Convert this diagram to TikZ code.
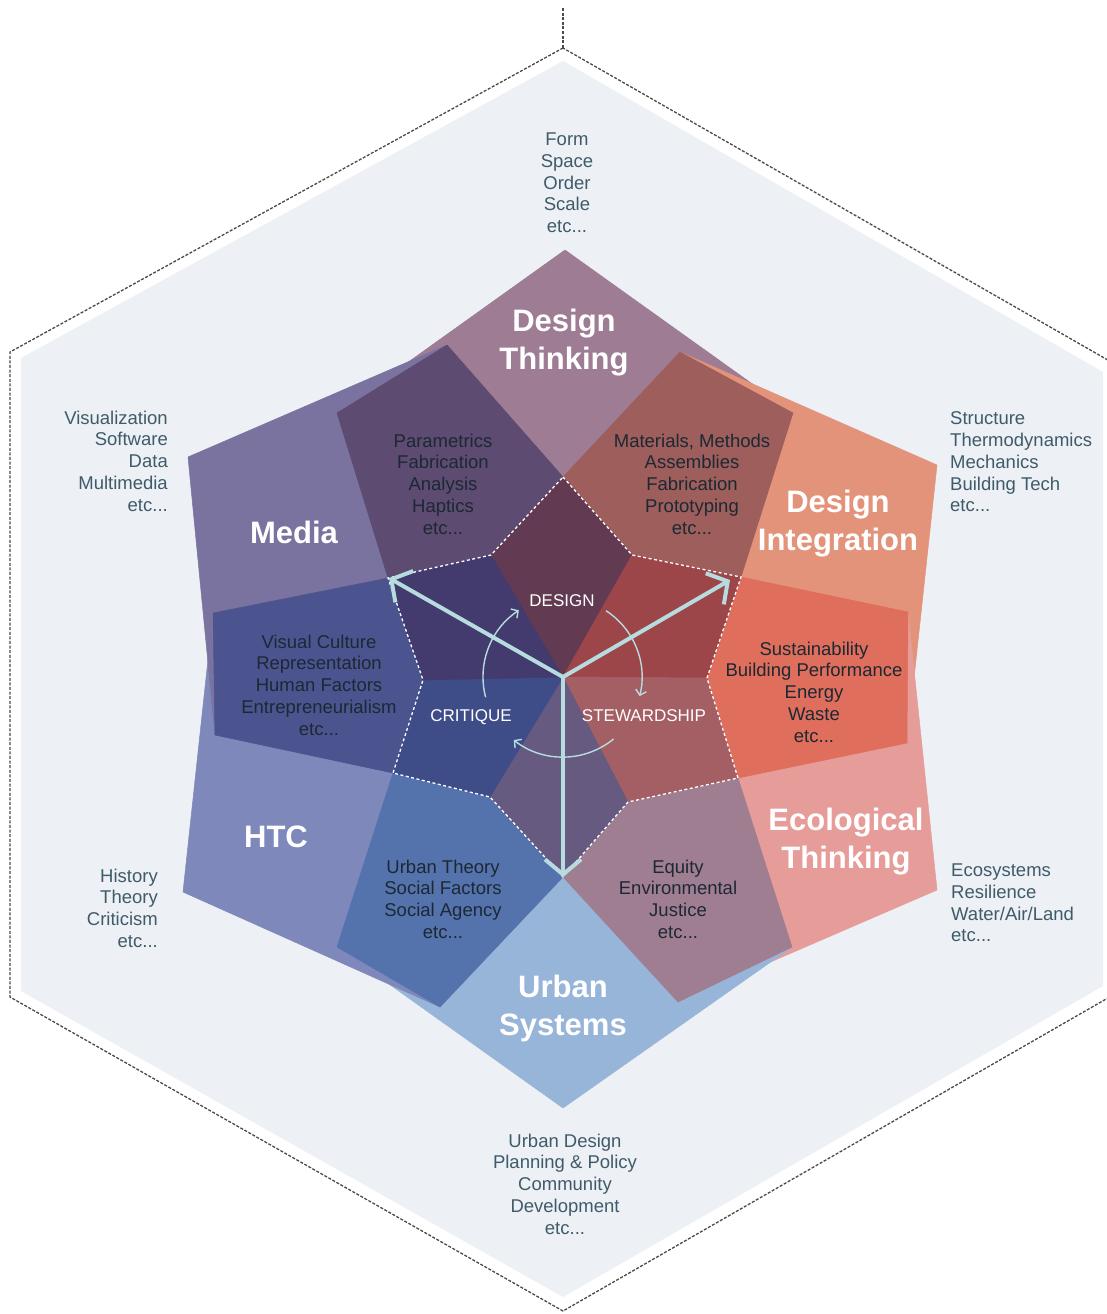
\documentclass[tikz,border=0pt]{standalone}
\usepackage{fontspec}
\setmainfont{Liberation Sans}
\usetikzlibrary{arrows.meta}

% palette
\definecolor{groundfill}{HTML}{EDF0F5}
\definecolor{framec}{HTML}{4A4A4A}
\definecolor{dtc}{HTML}{9E7C94}
\definecolor{dic}{HTML}{E4937B}
\definecolor{etc}{HTML}{E69C99}
\definecolor{usc}{HTML}{97B4D9}
\definecolor{htcc}{HTML}{7E88BA}
\definecolor{mediac}{HTML}{7A739F}
\definecolor{paramc}{HTML}{5D4B72}
\definecolor{materc}{HTML}{9D5E5C}
\definecolor{sustc}{HTML}{DF6E5C}
\definecolor{equityc}{HTML}{A07E92}
\definecolor{utheoryc}{HTML}{5473AD}
\definecolor{vculturec}{HTML}{4C5490}
\definecolor{coretop}{HTML}{623B53}
\definecolor{coreur}{HTML}{9C464A}
\definecolor{corelr}{HTML}{A35F63}
\definecolor{corebot}{HTML}{665A80}
\definecolor{corell}{HTML}{3E4C88}
\definecolor{coreul}{HTML}{433A6D}
\definecolor{axisc}{HTML}{B7DCE0}
\definecolor{outerink}{HTML}{3F5B69}
\definecolor{innerink}{HTML}{1C2833}

\begin{document}
\begin{tikzpicture}[x=1pt,y=-1pt,
  patch/.style={fill=#1, draw=#1, line width=0.5pt, line join=round},
  smalltext/.style={font=\fontsize{18.5}{21.7}\selectfont, inner sep=0pt},
  outertext/.style={smalltext, text=outerink},
  innertext/.style={smalltext, text=innerink, align=center},
  title/.style={font=\fontsize{31}{38}\selectfont\bfseries, text=white, align=center, inner sep=0pt},
  corelabel/.style={font=\fontsize{17}{20}\selectfont, text=white, inner sep=0pt},
  axis/.style={draw=axisc, line width=4pt, -{Straight Barb[length=15pt,width=36pt]}},
  turn/.style={draw=axisc, line width=1.4pt, -{Straight Barb[length=5pt,width=11pt]}},
  seam/.style={draw=white, line width=1.3pt, dash pattern=on 3pt off 2.5pt},
  frame/.style={draw=framec, line width=1.3pt, dash pattern=on 3pt off 1.6pt}]

\useasboundingbox (0,0) rectangle (1107,1314);
\fill[white] (0,0) rectangle (1107,1314);

% outer ground hexagon and its dashed frame
\fill[groundfill] (563,61) -- (21,358) -- (21,991) -- (563,1297) -- (1103,986) -- (1103,372) -- cycle;
\coordinate (frametop) at (563,48);
\coordinate (stem) at (563,8);
\draw[frame] (frametop) -- (10,352) -- (10,997) -- (563,1311) -- (1120,991) -- (1120,367) -- cycle;
\draw[frame] (stem) -- (frametop);

\coordinate (c) at (563,677);

% six main sectors
\fill[patch=dtc]    (c) -- (337,413) -- (565,250) -- (793,413) -- cycle;
\fill[patch=dic]    (c) -- (680,352) -- (937,465) -- (907,743) -- cycle;
\fill[patch=etc]    (c) -- (908,612) -- (937,890) -- (678,1002) -- cycle;
\fill[patch=usc]    (c) -- (792,947) -- (563,1108) -- (337,947) -- cycle;
\fill[patch=htcc]   (c) -- (440,1007) -- (183,892) -- (213,613) -- cycle;
\fill[patch=mediac] (c) -- (215,735) -- (188,457) -- (447,345) -- cycle;

% overlaps between neighbouring sectors
\fill[patch=paramc]    (337,413) -- (447,345) -- (563,477) -- (491,555) -- (388,578) -- cycle;
\fill[patch=materc]    (680,352) -- (793,413) -- (741,577) -- (632,555) -- (563,477) -- cycle;
\fill[patch=sustc]     (741,577) -- (908,612) -- (907,743) -- (738,778) -- (707,678) -- cycle;
\fill[patch=equityc]   (738,778) -- (792,947) -- (678,1002) -- (563,877) -- (628,802) -- cycle;
\fill[patch=utheoryc]  (393,773) -- (490,797) -- (563,877) -- (440,1007) -- (337,947) -- cycle;
\fill[patch=vculturec] (213,613) -- (388,578) -- (423,680) -- (393,773) -- (215,735) -- cycle;

% central star
\fill[patch=coretop] (c) -- (491,555) -- (563,477) -- (632,555) -- cycle;
\fill[patch=coreur]  (c) -- (632,555) -- (741,577) -- (707,678) -- cycle;
\fill[patch=corelr]  (c) -- (707,678) -- (738,778) -- (628,802) -- cycle;
\fill[patch=corebot] (c) -- (628,802) -- (563,877) -- (490,797) -- cycle;
\fill[patch=corell]  (c) -- (490,797) -- (393,773) -- (423,680) -- cycle;
\fill[patch=coreul]  (c) -- (423,680) -- (388,578) -- (491,555) -- cycle;
\draw[seam] (563,477) -- (632,555) -- (741,577) -- (707,678) -- (738,778) -- (628,802)
  -- (563,877) -- (490,797) -- (393,773) -- (423,680) -- (388,578) -- (491,555) -- cycle;

% axes
\coordinate (ulend) at (389,578);
\coordinate (urend) at (730,580);
\coordinate (botend) at (563,877);
\draw[axis] (c) -- (ulend);
\draw[axis] (c) -- (urend);
\draw[axis] (c) -- (botend);

% cycle arrows around the centre
\path (c) ++(194.6:80pt) coordinate (t1s);
\path (c) ++(57:79pt) coordinate (t2s);
\path (c) ++(-50.7:80pt) coordinate (t3s);
\draw[turn] (t1s) arc[start angle=194.6, end angle=123.5, radius=80pt];
\draw[turn] (t2s) arc[start angle=57, end angle=-14, radius=79pt];
\draw[turn] (t3s) arc[start angle=-50.7, end angle=-128, radius=80pt];

\node[corelabel] (design) at (562,601) {DESIGN};
\node[corelabel] (critique) at (471,717) {CRITIQUE};
\node[corelabel] (stewardship) at (644,716) {STEWARDSHIP};

% sector titles
\node[title] (tdt) at (564,343) {Design\\Thinking};
\node[title] (tmedia) at (294,532) {Media};
\node[title] (tdi) at (838,524) {Design\\Integration};
\node[title] (tet) at (846,842) {Ecological\\Thinking};
\node[title] (thtc) at (276,837) {HTC};
\node[title] (tus) at (563,1008) {Urban\\Systems};

% overlap contents
\node[innertext] (lparam) at (443,484) {Parametrics\\Fabrication\\Analysis\\Haptics\\etc...};
\node[innertext] (lmater) at (692,484) {Materials, Methods\\Assemblies\\Fabrication\\Prototyping\\etc...};
\node[innertext] (lvis) at (319,685) {Visual Culture\\Representation\\Human Factors\\Entrepreneurialism\\etc...};
\node[innertext] (lsust) at (814,692) {Sustainability\\Building Performance\\Energy\\Waste\\etc...};
\node[innertext] (lurb) at (443,899) {Urban Theory\\Social Factors\\Social Agency\\etc...};
\node[innertext] (leq) at (678,899) {Equity\\Environmental\\Justice\\etc...};

% sector topics outside
\node[outertext, align=center] (oform) at (567,183) {Form\\Space\\Order\\Scale\\etc...};
\node[outertext, align=right, anchor=east] (ovis) at (168,461) {Visualization\\Software\\Data\\Multimedia\\etc...};
\node[outertext, align=left, anchor=west] (ostruct) at (950,462) {Structure\\Thermodynamics\\Mechanics\\Building Tech\\etc...};
\node[outertext, align=right, anchor=east] (ohist) at (158,908) {History\\Theory\\Criticism\\etc...};
\node[outertext, align=left, anchor=west] (oeco) at (951,903) {Ecosystems\\Resilience\\Water/Air/Land\\etc...};
\node[outertext, align=center] (ourb) at (565,1184) {Urban Design\\Planning \& Policy\\Community\\Development\\etc...};

\end{tikzpicture}
\end{document}
